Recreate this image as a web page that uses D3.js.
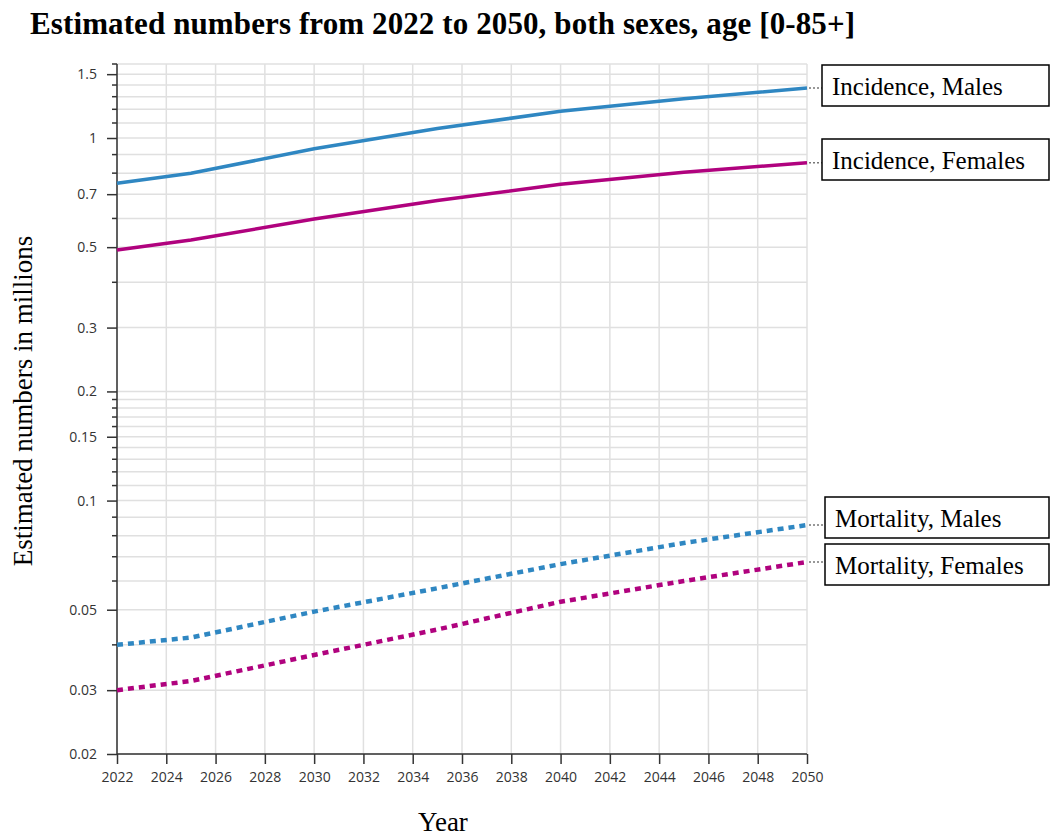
<!DOCTYPE html>
<html>
<head>
<meta charset="utf-8">
<script src="https://cdn.jsdelivr.net/npm/d3@7"></script>
<style>
  body { margin: 0; background: #fff; }
  svg { display: block; }
</style>
</head>
<body>
<div id="chart"></div>
<script>
// values (millions)
const years = [2022, 2025, 2030, 2035, 2040, 2045, 2050];
const incidenceMales = [0.750, 0.799, 0.934, 1.062, 1.185, 1.284, 1.373];
const incidenceFemales = [0.491, 0.523, 0.598, 0.672, 0.745, 0.805, 0.854];
const mortalityMales = [0.0400, 0.0419, 0.0494, 0.0573, 0.0668, 0.0764, 0.0856];
const mortalityFemales = [0.0300, 0.0318, 0.0375, 0.0441, 0.0526, 0.0600, 0.0677];

const seriesNames = ["Incidence, Males", "Incidence, Females", "Mortality, Males", "Mortality, Females"];

const yTickLabels = [0.02, 0.03, 0.05, 0.1, 0.15, 0.2, 0.3, 0.5, 0.7, 1, 1.5];
const yGrid = [0.02, 0.03, 0.04, 0.05, 0.06, 0.07, 0.08, 0.09,
    0.1, 0.11, 0.12, 0.13, 0.14, 0.15, 0.16, 0.17, 0.18, 0.19,
    0.2, 0.3, 0.4, 0.5, 0.6, 0.7, 0.8, 0.9,
    1, 1.1, 1.2, 1.3, 1.4, 1.5, 1.6];
const xTicks = [2022, 2024, 2026, 2028, 2030, 2032, 2034, 2036, 2038, 2040, 2042, 2044, 2046, 2048, 2050];

const width = 1051;
const height = 837;
const margin = {top: 64, right: 244, bottom: 83, left: 117};

const svg = d3.select("#chart").append("svg")
    .attr("width", width)
    .attr("height", height);

const x = d3.scaleLinear()
    .domain([2022, 2050])
    .range([margin.left, width - margin.right]);

const y = d3.scaleLog()
    .domain([0.02, 1.6])
    .range([height - margin.bottom, margin.top]);

// grid
svg.append("g")
    .selectAll("line")
    .data(yGrid)
    .enter()
    .append("line")
    .attr("x1", x(2022))
    .attr("x2", x(2050))
    .attr("y1", d => y(d))
    .attr("y2", d => y(d))
    .attr("stroke", "#e0e0e0")
    .attr("stroke-width", 1.5);

svg.append("g")
    .selectAll("line")
    .data(xTicks)
    .enter()
    .append("line")
    .attr("x1", d => x(d))
    .attr("x2", d => x(d))
    .attr("y1", y(0.02))
    .attr("y2", y(1.6))
    .attr("stroke", "#e0e0e0")
    .attr("stroke-width", 1.5);

// axes
const yAxis = svg.append("g")
    .attr("transform", "translate(" + x(2022) + ",0)")
    .call(d3.axisLeft(y)
        .tickValues(yTickLabels)
        .tickFormat(d => String(d))
        .tickSize(10)
        .tickPadding(10));

// minor ticks on the y axis
svg.append("g")
    .selectAll("line")
    .data(yGrid.filter(v => !yTickLabels.includes(v)))
    .enter()
    .append("line")
    .attr("x1", x(2022) - 5)
    .attr("x2", x(2022))
    .attr("y1", d => y(d))
    .attr("y2", d => y(d))
    .attr("stroke", "#333")
    .attr("stroke-width", 1.5);

const xAxis = svg.append("g")
    .attr("transform", "translate(0," + y(0.02) + ")")
    .call(d3.axisBottom(x)
        .tickValues(xTicks)
        .tickFormat(d3.format("d"))
        .tickSize(10)
        .tickPadding(8));

[yAxis, xAxis].forEach(a => {
    a.select(".domain").attr("stroke", "#333").attr("stroke-width", 1.5);
    a.selectAll(".tick line").attr("stroke", "#333").attr("stroke-width", 1.5);
    a.selectAll("text")
        .attr("fill", "#333")
        .style("font-family", "'Open Sans', sans-serif")
        .style("font-size", "14px");
});
yAxis.select(".domain").attr("d", "M0," + y(0.02) + "V" + y(1.6));
xAxis.select(".domain").attr("d", "M" + x(2022) + ",0H" + x(2050));

// lines
const series = [
    {name: seriesNames[0], values: incidenceMales, color: "#2f87c2", dash: null, box: 65},
    {name: seriesNames[1], values: incidenceFemales, color: "#b0027e", dash: null, box: 139},
    {name: seriesNames[2], values: mortalityMales, color: "#2f87c2", dash: "6,5", box: 497},
    {name: seriesNames[3], values: mortalityFemales, color: "#b0027e", dash: "6,5", box: 544}
];

const line = d3.line()
    .x(d => x(d[0]))
    .y(d => y(d[1]));

series.forEach(s => {
    const pts = years.map((yr, i) => [yr, s.values[i]]);
    svg.append("path")
        .datum(pts)
        .attr("fill", "none")
        .attr("stroke", s.color)
        .attr("stroke-width", s.dash ? 4.5 : 3.5)
        .attr("stroke-dasharray", s.dash)
        .attr("d", line);
});

// label boxes
const boxLeft = [822, 822, 825, 825];
series.forEach((s, i) => {
    const endY = y(s.values[s.values.length - 1]);
    const bx = boxLeft[i];
    svg.append("line")
        .attr("x1", x(2050) + 2)
        .attr("x2", bx)
        .attr("y1", endY)
        .attr("y2", endY)
        .attr("stroke", "#777")
        .attr("stroke-width", 1.5)
        .attr("stroke-dasharray", "2,2");
    svg.append("rect")
        .attr("x", bx)
        .attr("y", s.box)
        .attr("width", 1049 - bx)
        .attr("height", 41)
        .attr("fill", "#fff")
        .attr("stroke", "#000")
        .attr("stroke-width", 1.5);
    svg.append("text")
        .attr("x", bx + 10)
        .attr("y", s.box + 30)
        .style("font-family", "'Liberation Serif', 'Times New Roman', serif")
        .style("font-size", "25px")
        .text(s.name);
});

// titles
svg.append("text")
    .attr("x", 30)
    .attr("y", 34)
    .attr("textLength", 825)
    .style("font-family", "'Liberation Serif', 'Times New Roman', serif")
    .style("font-size", "31px")
    .style("font-weight", "bold")
    .text("Estimated numbers from 2022 to 2050, both sexes, age [0-85+]");

svg.append("text")
    .attr("x", 443)
    .attr("y", 831)
    .attr("text-anchor", "middle")
    .style("font-family", "'Liberation Serif', 'Times New Roman', serif")
    .style("font-size", "27px")
    .text("Year");

svg.append("text")
    .attr("transform", "translate(32,401) rotate(-90)")
    .attr("text-anchor", "middle")
    .style("font-family", "'Liberation Serif', 'Times New Roman', serif")
    .style("font-size", "27px")
    .text("Estimated numbers in millions");
</script>
</body>
</html>
